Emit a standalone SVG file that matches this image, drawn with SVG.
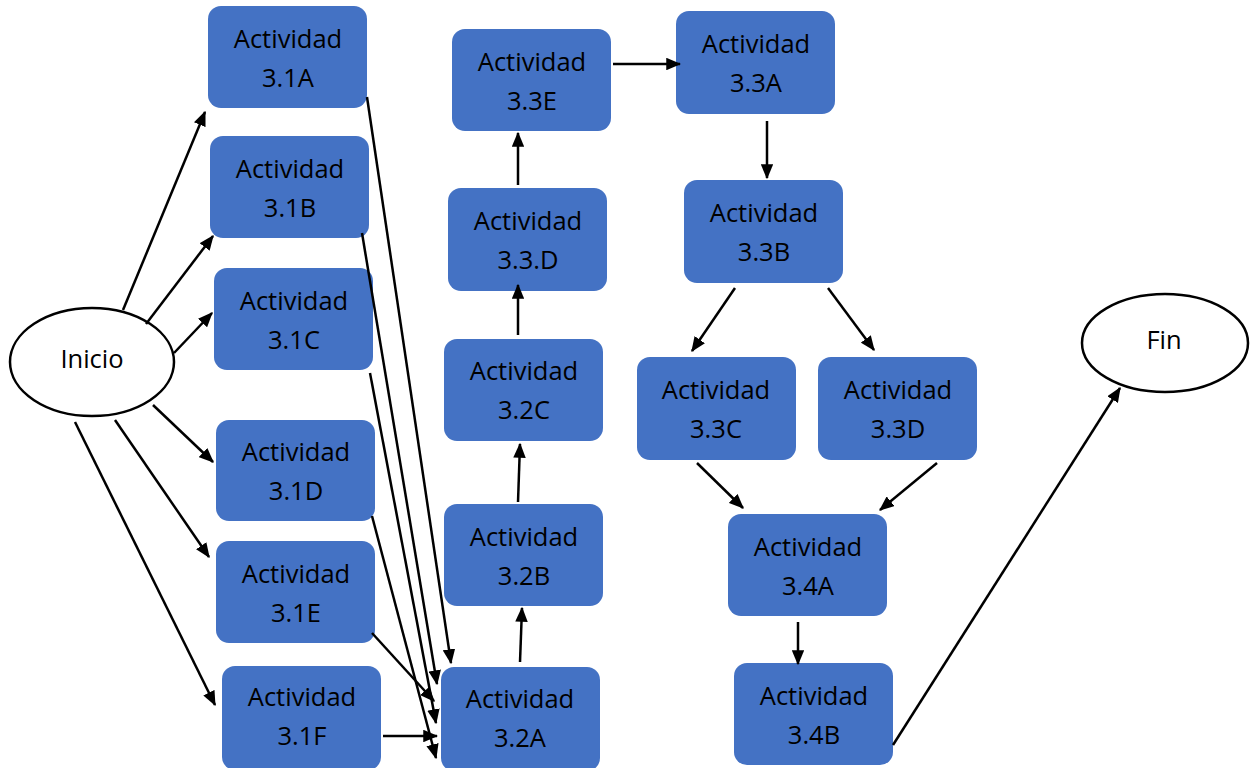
<svg xmlns="http://www.w3.org/2000/svg" width="1257" height="768" viewBox="0 0 1257 768">
  <style>
    .box { fill: #4472C4; }
    .oval { fill: #ffffff; stroke: #000000; stroke-width: 2.5; }
    .lbl { font-family: "Open Sans", "Liberation Sans", sans-serif; font-size: 25.5px; fill: #000000; text-anchor: middle; }
    .edge { stroke: #000000; stroke-width: 2.5; fill: none; marker-end: url(#arrow); }
  </style>
  <defs>
    <marker id="arrow" markerWidth="6" markerHeight="5" refX="5.5" refY="2.5" orient="auto" markerUnits="strokeWidth">
      <path d="M0,0 L6,2.5 L0,5 Z" fill="#000000"/>
    </marker>
  </defs>
  <rect width="1257" height="768" fill="#ffffff"/>

  <!-- terminals -->
  <g id="inicio">
    <ellipse class="oval" cx="92" cy="362" rx="82" ry="54"/>
    <text class="lbl" x="92" y="368">Inicio</text>
  </g>
  <g id="fin">
    <ellipse class="oval" cx="1165" cy="343" rx="83" ry="49"/>
    <text class="lbl" x="1164" y="349">Fin</text>
  </g>

  <!-- activities -->
  <g id="a31A"><rect class="box" x="208" y="6" width="159" height="102" rx="13"/><text class="lbl" x="288" y="48">Actividad</text><text class="lbl" x="288" y="87">3.1A</text></g>
  <g id="a31B"><rect class="box" x="210" y="136" width="159" height="102" rx="13"/><text class="lbl" x="290" y="178">Actividad</text><text class="lbl" x="290" y="217">3.1B</text></g>
  <g id="a31C"><rect class="box" x="214" y="268" width="159" height="102" rx="13"/><text class="lbl" x="294" y="310">Actividad</text><text class="lbl" x="294" y="349">3.1C</text></g>
  <g id="a31D"><rect class="box" x="216" y="420" width="159" height="101" rx="13"/><text class="lbl" x="296" y="461">Actividad</text><text class="lbl" x="296" y="500">3.1D</text></g>
  <g id="a31E"><rect class="box" x="216" y="541" width="159" height="102" rx="13"/><text class="lbl" x="296" y="583">Actividad</text><text class="lbl" x="296" y="622">3.1E</text></g>
  <g id="a31F"><rect class="box" x="222" y="666" width="159" height="104" rx="13"/><text class="lbl" x="302" y="706">Actividad</text><text class="lbl" x="302" y="745">3.1F</text></g>
  <g id="a32A"><rect class="box" x="441" y="667" width="159" height="104" rx="13"/><text class="lbl" x="520" y="708">Actividad</text><text class="lbl" x="520" y="747">3.2A</text></g>
  <g id="a32B"><rect class="box" x="444" y="504" width="159" height="102" rx="13"/><text class="lbl" x="524" y="546">Actividad</text><text class="lbl" x="524" y="585">3.2B</text></g>
  <g id="a32C"><rect class="box" x="444" y="339" width="159" height="102" rx="13"/><text class="lbl" x="524" y="380">Actividad</text><text class="lbl" x="524" y="419">3.2C</text></g>
  <g id="a33Ddot"><rect class="box" x="448" y="188" width="159" height="103" rx="13"/><text class="lbl" x="528" y="230">Actividad</text><text class="lbl" x="528" y="269">3.3.D</text></g>
  <g id="a33E"><rect class="box" x="452" y="29" width="159" height="102" rx="13"/><text class="lbl" x="532" y="71">Actividad</text><text class="lbl" x="532" y="110">3.3E</text></g>
  <g id="a33A"><rect class="box" x="676" y="11" width="159" height="103" rx="13"/><text class="lbl" x="756" y="53">Actividad</text><text class="lbl" x="756" y="92">3.3A</text></g>
  <g id="a33B"><rect class="box" x="684" y="180" width="159" height="103" rx="13"/><text class="lbl" x="764" y="222">Actividad</text><text class="lbl" x="764" y="261">3.3B</text></g>
  <g id="a33C"><rect class="box" x="637" y="357" width="159" height="103" rx="13"/><text class="lbl" x="716" y="399">Actividad</text><text class="lbl" x="716" y="438">3.3C</text></g>
  <g id="a33D"><rect class="box" x="818" y="357" width="159" height="103" rx="13"/><text class="lbl" x="898" y="399">Actividad</text><text class="lbl" x="898" y="438">3.3D</text></g>
  <g id="a34A"><rect class="box" x="728" y="514" width="159" height="102" rx="13"/><text class="lbl" x="808" y="556">Actividad</text><text class="lbl" x="808" y="595">3.4A</text></g>
  <g id="a34B"><rect class="box" x="734" y="663" width="159" height="102" rx="13"/><text class="lbl" x="814" y="705">Actividad</text><text class="lbl" x="814" y="744">3.4B</text></g>

  <!-- connectors -->
  <g id="connectors">
    <line class="edge" x1="123" y1="310" x2="205" y2="112"/>
    <line class="edge" x1="146" y1="324" x2="213" y2="236"/>
    <line class="edge" x1="174" y1="353" x2="212" y2="313"/>
    <line class="edge" x1="153" y1="405" x2="213" y2="462"/>
    <line class="edge" x1="115" y1="420" x2="209" y2="557"/>
    <line class="edge" x1="75" y1="422" x2="215" y2="705"/>

    <line class="edge" x1="367" y1="97" x2="451" y2="663"/>
    <line class="edge" x1="362" y1="233" x2="437" y2="684"/>
    <line class="edge" x1="370" y1="373" x2="436" y2="723"/>
    <line class="edge" x1="372" y1="516" x2="436" y2="758"/>
    <line class="edge" x1="372" y1="633" x2="434" y2="701"/>
    <line class="edge" x1="383" y1="736" x2="437" y2="736"/>

    <line class="edge" x1="520" y1="662" x2="522" y2="608"/>
    <line class="edge" x1="518" y1="502" x2="520" y2="444"/>
    <line class="edge" x1="518" y1="335" x2="518" y2="285"/>
    <line class="edge" x1="518" y1="185" x2="518" y2="133"/>
    <line class="edge" x1="613" y1="64" x2="680" y2="64"/>
    <line class="edge" x1="767" y1="121" x2="767" y2="178"/>
    <line class="edge" x1="735" y1="288" x2="692" y2="351"/>
    <line class="edge" x1="828" y1="288" x2="874" y2="350"/>
    <line class="edge" x1="697" y1="463" x2="743" y2="508"/>
    <line class="edge" x1="937" y1="463" x2="880" y2="510"/>
    <line class="edge" x1="798" y1="622" x2="798" y2="664"/>
    <line class="edge" x1="893" y1="745" x2="1120" y2="388"/>
  </g>
</svg>
